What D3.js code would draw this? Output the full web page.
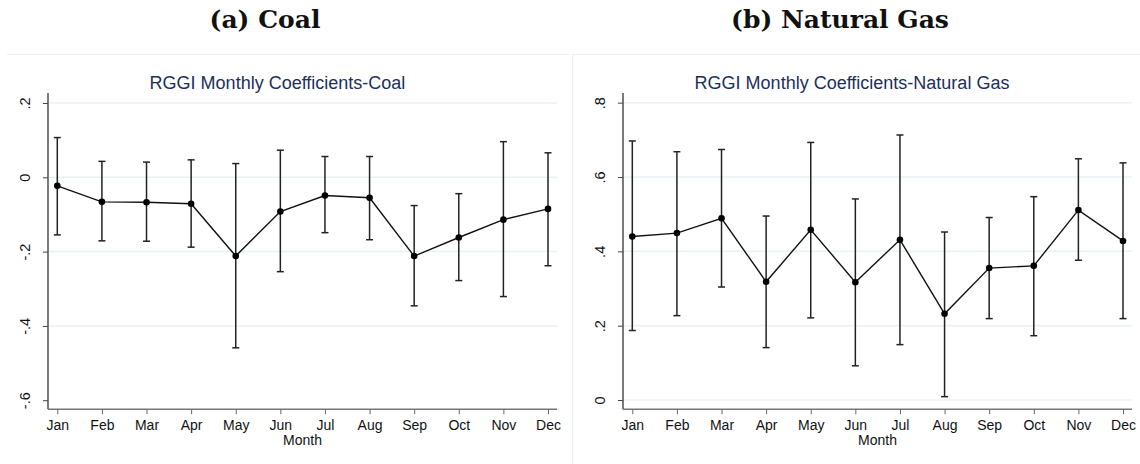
<!DOCTYPE html>
<html>
<head>
<meta charset="utf-8">
<script src="https://cdn.jsdelivr.net/npm/d3@7"></script>
<style>
  body { margin: 0; background: #fff; }
  svg { display: block; }
</style>
</head>
<body>
<svg id="chart" width="1140" height="464"></svg>
<script>
// months on the x axis
var months = ["Jan","Feb","Mar","Apr","May","Jun","Jul","Aug","Sep","Oct","Nov","Dec"];

// coal: point estimate, upper and lower CI
var coalCoef  = [-0.023,-0.066,-0.067,-0.071,-0.212,-0.092,-0.049,-0.055,-0.212,-0.162,-0.114,-0.085];
var coalUpper = [ 0.107, 0.043, 0.041, 0.047, 0.037, 0.073, 0.056, 0.056,-0.076,-0.044, 0.096, 0.066];
var coalLower = [-0.155,-0.171,-0.172,-0.188,-0.459,-0.254,-0.149,-0.168,-0.346,-0.278,-0.321,-0.238];
var coalTicks = [-0.6,-0.4,-0.2,0,0.2];
var coalTickLabels = ["-.6","-.4","-.2","0",".2"];

// natural gas
var gasCoef  = [0.440,0.449,0.489,0.318,0.458,0.317,0.431,0.232,0.355,0.361,0.511,0.428];
var gasUpper = [0.697,0.668,0.674,0.495,0.693,0.541,0.713,0.452,0.491,0.547,0.649,0.638];
var gasLower = [0.187,0.227,0.304,0.141,0.221,0.092,0.149,0.009,0.219,0.173,0.376,0.219];
var gasTicks = [0,0.2,0.4,0.6,0.8];
var gasTickLabels = ["0",".2",".4",".6",".8"];

var svg = d3.select("#chart");

// outer borders of the two stata graphs
svg.append("line").attr("x1",7).attr("x2",569).attr("y1",54.5).attr("y2",54.5)
   .attr("stroke","#e9f0f2").attr("stroke-width",1.2);
svg.append("line").attr("x1",572).attr("x2",1140).attr("y1",54.5).attr("y2",54.5)
   .attr("stroke","#e9f0f2").attr("stroke-width",1.2);
svg.append("line").attr("x1",572.5).attr("x2",572.5).attr("y1",54).attr("y2",464)
   .attr("stroke","#e9f0f2").attr("stroke-width",1.2);

function drawPanel(opt) {
  var g = svg.append("g");

  // heading above panel
  svg.append("text")
     .attr("x", opt.headX).attr("y", 28)
     .attr("text-anchor","middle")
     .style("font-family","'DejaVu Serif', serif")
     .style("font-weight","bold")
     .style("font-size","25px")
     .attr("fill","#111")
     .text(opt.heading);

  g.append("text")
   .attr("x", opt.titleX).attr("y", 89)
   .attr("text-anchor","middle")
   .style("font-family","'Liberation Sans', Arial, sans-serif")
   .style("font-size","18px")
   .attr("fill","#1c2f5c")
   .text(opt.title);

  var x = d3.scalePoint().domain(months).range([opt.left + 9.3, opt.left + 500]);
  var y = d3.scaleLinear().domain(opt.domain).range([409.3, 93]);

  // gridlines
  g.selectAll(".grid").data(opt.ticks.filter(function(t){ return opt.gridSkip.indexOf(t) < 0; }))
   .enter().append("line")
   .attr("x1", opt.left + 1).attr("x2", opt.left + 509)
   .attr("y1", function(d){ return y(d); }).attr("y2", function(d){ return y(d); })
   .attr("stroke","#eaf1f3").attr("stroke-width",1.5);

  // y axis
  var yAxis = d3.axisLeft(y).tickValues(opt.ticks).tickSize(5)
                .tickFormat(function(d,i){ return opt.tickLabels[i]; });
  var ya = g.append("g").attr("transform","translate(" + opt.left + ",0)").call(yAxis);
  ya.select(".domain").attr("stroke","#333").attr("stroke-width",1.3)
    .attr("d","M0,93V409.3");
  ya.selectAll(".tick line").attr("stroke","#444").attr("stroke-width",1);
  ya.selectAll(".tick text")
    .attr("x",0).attr("y",0).attr("dy",null)
    .attr("transform","translate(-18,0) rotate(-90)")
    .attr("text-anchor","middle")
    .style("font-family","'Liberation Sans', Arial, sans-serif")
    .style("font-size","14.5px")
    .attr("fill","#111");

  // x axis
  var xAxis = d3.axisBottom(x).tickSize(5).tickPadding(6);
  var xa = g.append("g").attr("transform","translate(0,409.3)").call(xAxis);
  xa.select(".domain").attr("stroke","#777").attr("stroke-width",1.4)
    .attr("d","M" + opt.left + ",0H" + (opt.left + 509));
  xa.selectAll(".tick line").attr("stroke","#666");
  xa.selectAll(".tick text")
    .style("font-family","'Liberation Sans', Arial, sans-serif")
    .style("font-size","14px")
    .attr("fill","#111");

  g.append("text")
   .attr("x", opt.left + 254.5).attr("y", 445)
   .attr("text-anchor","middle")
   .style("font-family","'Liberation Sans', Arial, sans-serif")
   .style("font-size","14px")
   .attr("fill","#111")
   .text("Month");

  // error bars
  var bars = g.selectAll(".bar").data(months).enter().append("g");
  bars.append("line")
      .attr("x1", function(d){ return x(d); }).attr("x2", function(d){ return x(d); })
      .attr("y1", function(d,i){ return y(opt.upper[i]); })
      .attr("y2", function(d,i){ return y(opt.lower[i]); })
      .attr("stroke","#222").attr("stroke-width",1.5);
  bars.append("line")
      .attr("x1", function(d){ return x(d) - 3.5; }).attr("x2", function(d){ return x(d) + 3.5; })
      .attr("y1", function(d,i){ return y(opt.upper[i]); })
      .attr("y2", function(d,i){ return y(opt.upper[i]); })
      .attr("stroke","#222").attr("stroke-width",1.5);
  bars.append("line")
      .attr("x1", function(d){ return x(d) - 3.5; }).attr("x2", function(d){ return x(d) + 3.5; })
      .attr("y1", function(d,i){ return y(opt.lower[i]); })
      .attr("y2", function(d,i){ return y(opt.lower[i]); })
      .attr("stroke","#222").attr("stroke-width",1.5);

  // connected line
  var line = d3.line()
    .x(function(d,i){ return x(months[i]); })
    .y(function(d){ return y(d); });
  g.append("path").datum(opt.coef)
   .attr("d", line).attr("fill","none")
   .attr("stroke","#111").attr("stroke-width",1.4);

  g.selectAll(".pt").data(opt.coef).enter().append("circle")
   .attr("cx", function(d,i){ return x(months[i]); })
   .attr("cy", function(d){ return y(d); })
   .attr("r", 3.3).attr("fill","#000");
}

drawPanel({
  heading: "(a) Coal", headX: 265,
  title: "RGGI Monthly Coefficients-Coal", titleX: 277.5,
  left: 48, domain: [-0.6245, 0.227],
  ticks: coalTicks, tickLabels: coalTickLabels, gridSkip: [-0.6],
  coef: coalCoef, upper: coalUpper, lower: coalLower
});

drawPanel({
  heading: "(b) Natural Gas", headX: 840,
  title: "RGGI Monthly Coefficients-Natural Gas", titleX: 852,
  left: 623, domain: [-0.025, 0.826],
  ticks: gasTicks, tickLabels: gasTickLabels, gridSkip: [],
  coef: gasCoef, upper: gasUpper, lower: gasLower
});
</script>
</body>
</html>
